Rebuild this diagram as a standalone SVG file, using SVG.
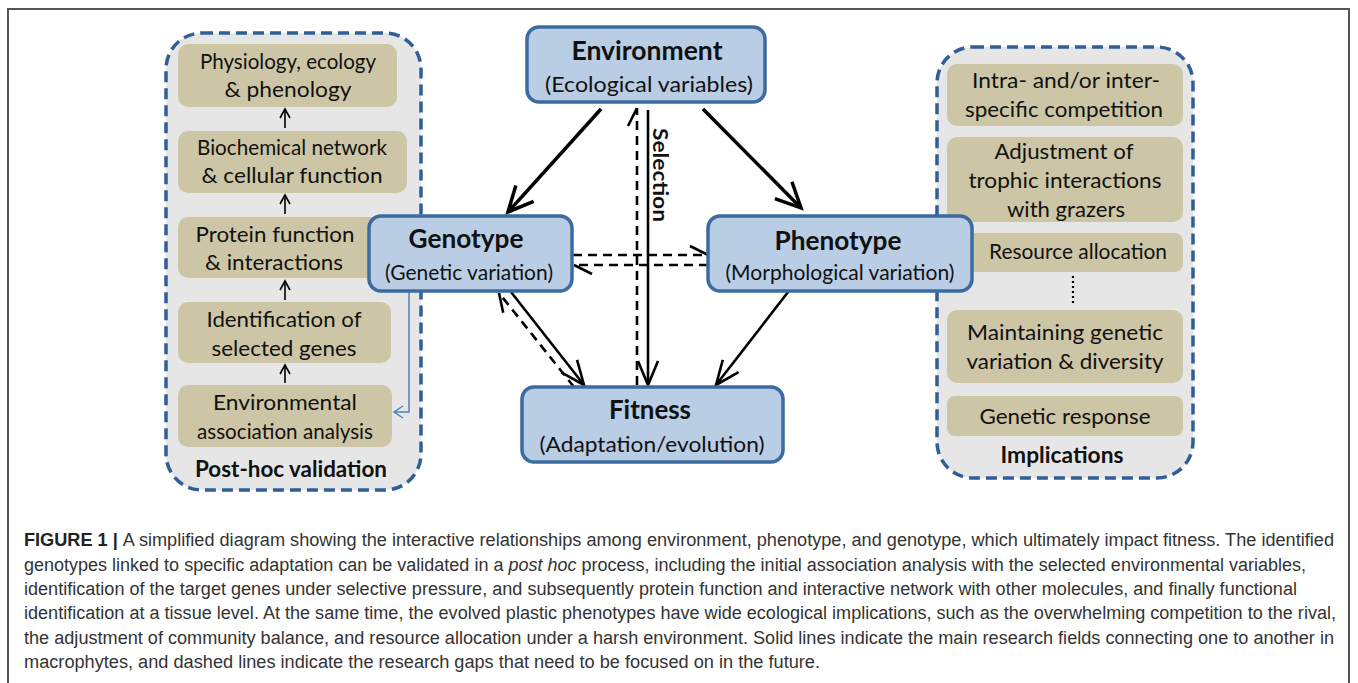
<svg xmlns="http://www.w3.org/2000/svg" width="1358" height="683" viewBox="0 0 1358 683">
<defs>
<style>
.panel{fill:#e6e6e6;stroke:#2f5f96;stroke-width:3.5;stroke-dasharray:11 6}
.tan{fill:#cdc6a6}
.node{fill:#b9cde5;stroke:#3c6b9f;stroke-width:3.5}
.t{font-family:Lato,"Open Sans",sans-serif;font-size:22px;fill:#111;text-anchor:middle}
.tb{font-family:Lato,"Open Sans",sans-serif;font-size:22px;font-weight:bold;fill:#111;text-anchor:middle}
.h{font-family:Lato,"Open Sans",sans-serif;font-size:27px;font-weight:bold;fill:#111;text-anchor:middle}
.s{font-family:Lato,"Open Sans",sans-serif;font-size:22px;fill:#111;text-anchor:middle}
.cap{font-family:"Liberation Sans",Arial,sans-serif;font-size:18px;fill:#333}
.thick{stroke:#000;stroke-width:3.5;fill:none}
.solid{stroke:#000;stroke-width:2.6;fill:none}
.dash{stroke:#000;stroke-width:2.6;fill:none;stroke-dasharray:9 6}
.small{stroke:#000;stroke-width:1.6;fill:none}
</style>
<marker id="bigV" markerUnits="userSpaceOnUse" orient="auto" markerWidth="40" markerHeight="40" viewBox="-30 -20 40 40" refX="0" refY="0" overflow="visible">
<path d="M-25,-12 L0,0 L-25,12" fill="none" stroke="#000" stroke-width="3.5"/>
</marker>
<marker id="midV" markerUnits="userSpaceOnUse" orient="auto" markerWidth="40" markerHeight="40" viewBox="-30 -20 40 40" refX="0" refY="0" overflow="visible">
<path d="M-24,-10 L0,0 L-24,10" fill="none" stroke="#000" stroke-width="2.6"/>
</marker>
<marker id="half" markerUnits="userSpaceOnUse" orient="auto" markerWidth="40" markerHeight="40" viewBox="-30 -20 40 40" refX="0" refY="0" overflow="visible">
<path d="M0,0 L-18,-9" fill="none" stroke="#000" stroke-width="2.6" stroke-dasharray="none"/>
</marker>
<marker id="smallV" markerUnits="userSpaceOnUse" orient="auto" markerWidth="20" markerHeight="20" viewBox="-15 -10 20 20" refX="0" refY="0" overflow="visible">
<path d="M-9,-5 L0,0 L-9,5" fill="none" stroke="#000" stroke-width="1.6"/>
</marker>
<marker id="blueV" markerUnits="userSpaceOnUse" orient="auto" markerWidth="20" markerHeight="20" viewBox="-15 -10 20 20" refX="0" refY="0" overflow="visible">
<path d="M-9,-6 L0,0 L-9,6" fill="none" stroke="#4f81bd" stroke-width="1.5"/>
</marker>
</defs>

<rect x="0" y="0" width="1358" height="683" fill="#fff"/>
<rect id="frame" x="8" y="9" width="1341" height="720" fill="none" stroke="#555" stroke-width="2"/>

<g id="post-hoc-panel">
<rect class="panel" x="166" y="33" width="255" height="457" rx="36"/>
<text class="tb" x="291" y="477" textLength="192" lengthAdjust="spacingAndGlyphs">Post-hoc validation</text>
</g>
<g id="physiology">
<rect class="tan" x="178" y="44" width="219" height="63" rx="10"/>
<text class="t" x="288" y="69" textLength="176" lengthAdjust="spacingAndGlyphs">Physiology, ecology</text>
<text class="t" x="288" y="97" textLength="127" lengthAdjust="spacingAndGlyphs">&amp; phenology</text>
</g>
<g id="biochemical">
<rect class="tan" x="178" y="131" width="229" height="62" rx="10"/>
<text class="t" x="292" y="155" textLength="190" lengthAdjust="spacingAndGlyphs">Biochemical network</text>
<text class="t" x="292" y="183" textLength="181" lengthAdjust="spacingAndGlyphs">&amp; cellular function</text>
</g>
<g id="protein">
<rect class="tan" x="178" y="217" width="215" height="61" rx="10"/>
<text class="t" x="275" y="242" textLength="159" lengthAdjust="spacingAndGlyphs">Protein function</text>
<text class="t" x="274" y="270" textLength="138" lengthAdjust="spacingAndGlyphs">&amp; interactions</text>
</g>
<g id="identification">
<rect class="tan" x="178" y="302" width="213" height="61" rx="10"/>
<text class="t" x="284" y="327" textLength="155" lengthAdjust="spacingAndGlyphs">Identification of</text>
<text class="t" x="284" y="356" textLength="145" lengthAdjust="spacingAndGlyphs">selected genes</text>
</g>
<g id="environmental-association">
<rect class="tan" x="178" y="385" width="214" height="62" rx="10"/>
<text class="t" x="285" y="410" textLength="144" lengthAdjust="spacingAndGlyphs">Environmental</text>
<text class="t" x="285" y="439" textLength="176" lengthAdjust="spacingAndGlyphs">association analysis</text>
</g>

<g id="implications-panel">
<rect class="panel" x="937" y="47" width="256" height="431" rx="36"/>
<text class="tb" x="1062" y="463" textLength="123" lengthAdjust="spacingAndGlyphs">Implications</text>
</g>
<g id="competition">
<rect class="tan" x="947" y="64" width="236" height="62" rx="10"/>
<text class="t" x="1066" y="88" textLength="188" lengthAdjust="spacingAndGlyphs">Intra- and/or inter-</text>
<text class="t" x="1064" y="117" textLength="198" lengthAdjust="spacingAndGlyphs">specific competition</text>
</g>
<g id="trophic">
<rect class="tan" x="947" y="137" width="236" height="85" rx="10"/>
<text class="t" x="1064" y="159" textLength="139" lengthAdjust="spacingAndGlyphs">Adjustment of</text>
<text class="t" x="1065" y="188" textLength="193" lengthAdjust="spacingAndGlyphs">trophic interactions</text>
<text class="t" x="1066" y="217" textLength="118" lengthAdjust="spacingAndGlyphs">with grazers</text>
</g>
<g id="resource">
<rect class="tan" x="947" y="233" width="236" height="39" rx="8"/>
<text class="t" x="1078" y="259" textLength="178" lengthAdjust="spacingAndGlyphs">Resource allocation</text>
</g>
<g id="ellipsis">
<line x1="1073" y1="276" x2="1073" y2="305" stroke="#000" stroke-width="2.2" stroke-dasharray="2 3"/>
</g>
<g id="maintaining">
<rect class="tan" x="947" y="310" width="236" height="73" rx="10"/>
<text class="t" x="1065" y="340" textLength="196" lengthAdjust="spacingAndGlyphs">Maintaining genetic</text>
<text class="t" x="1065" y="369" textLength="197" lengthAdjust="spacingAndGlyphs">variation &amp; diversity</text>
</g>
<g id="genetic-response">
<rect class="tan" x="947" y="396" width="236" height="40" rx="8"/>
<text class="t" x="1065" y="424" textLength="171" lengthAdjust="spacingAndGlyphs">Genetic response</text>
</g>

<g id="connectors">
<line class="small" x1="285" y1="128" x2="285" y2="109" marker-end="url(#smallV)"/>
<line class="small" x1="285" y1="214" x2="285" y2="195" marker-end="url(#smallV)"/>
<line class="small" x1="285" y1="300" x2="285" y2="281" marker-end="url(#smallV)"/>
<line class="small" x1="285" y1="383" x2="285" y2="365" marker-end="url(#smallV)"/>
<path d="M409,292 V412 H394" fill="none" stroke="#4f81bd" stroke-width="1.5" marker-end="url(#blueV)"/>
<line class="thick" x1="601" y1="109" x2="508" y2="212" marker-end="url(#bigV)"/>
<line class="thick" x1="703" y1="109" x2="801" y2="208" marker-end="url(#bigV)"/>
<line class="solid" x1="648" y1="110" x2="648" y2="385" marker-end="url(#midV)"/>
<line class="dash" x1="637" y1="385" x2="637" y2="108" marker-end="url(#half)"/>
<line class="dash" x1="573" y1="255" x2="708" y2="255" marker-end="url(#half)"/>
<line class="dash" x1="708" y1="265" x2="574" y2="265" marker-end="url(#half)"/>
<line class="solid" x1="511" y1="292" x2="584" y2="385" marker-end="url(#midV)"/>
<line class="dash" x1="574" y1="387" x2="499" y2="293" marker-end="url(#half)"/>
<line class="solid" x1="795" y1="283" x2="716" y2="385" marker-end="url(#midV)"/>
<text x="653" y="175" transform="rotate(90 653 175)" textLength="94" lengthAdjust="spacingAndGlyphs" style="font-family:Lato,'Open Sans',sans-serif;font-size:21px;font-weight:bold;fill:#111;text-anchor:middle">Selection</text>
</g>

<g id="environment">
<rect class="node" x="527" y="27" width="238" height="75" rx="12"/>
<text class="h" x="647" y="60" textLength="151" lengthAdjust="spacingAndGlyphs">Environment</text>
<text class="s" x="649" y="92" textLength="208" lengthAdjust="spacingAndGlyphs">(Ecological variables)</text>
</g>
<g id="genotype">
<rect class="node" x="369" y="216" width="203" height="75" rx="12"/>
<text class="h" x="466" y="248" textLength="115" lengthAdjust="spacingAndGlyphs">Genotype</text>
<text class="s" x="469" y="280" textLength="168" lengthAdjust="spacingAndGlyphs">(Genetic variation)</text>
</g>
<g id="phenotype">
<rect class="node" x="708" y="216" width="264" height="75" rx="12"/>
<text class="h" x="838" y="250" textLength="127" lengthAdjust="spacingAndGlyphs">Phenotype</text>
<text class="s" x="840" y="280" textLength="229" lengthAdjust="spacingAndGlyphs">(Morphological variation)</text>
</g>
<g id="fitness">
<rect class="node" x="522" y="387" width="261" height="75" rx="12"/>
<text class="h" x="650" y="419" textLength="82" lengthAdjust="spacingAndGlyphs">Fitness</text>
<text class="s" x="652" y="452" textLength="225" lengthAdjust="spacingAndGlyphs">(Adaptation/evolution)</text>
</g>

<g id="caption">
<text class="cap" x="24" y="546" textLength="1310" lengthAdjust="spacingAndGlyphs"><tspan font-weight="bold" fill="#222">FIGURE 1 | </tspan>A simplified diagram showing the interactive relationships among environment, phenotype, and genotype, which ultimately impact fitness. The identified</text>
<text class="cap" x="24" y="571" textLength="1282" lengthAdjust="spacingAndGlyphs">genotypes linked to specific adaptation can be validated in a <tspan font-style="italic">post hoc</tspan> process, including the initial association analysis with the selected environmental variables,</text>
<text class="cap" x="24" y="595" textLength="1273" lengthAdjust="spacingAndGlyphs">identification of the target genes under selective pressure, and subsequently protein function and interactive network with other molecules, and finally functional</text>
<text class="cap" x="24" y="619" textLength="1312" lengthAdjust="spacingAndGlyphs">identification at a tissue level. At the same time, the evolved plastic phenotypes have wide ecological implications, such as the overwhelming competition to the rival,</text>
<text class="cap" x="24" y="644" textLength="1310" lengthAdjust="spacingAndGlyphs">the adjustment of community balance, and resource allocation under a harsh environment. Solid lines indicate the main research fields connecting one to another in</text>
<text class="cap" x="24" y="668" textLength="796" lengthAdjust="spacingAndGlyphs">macrophytes, and dashed lines indicate the research gaps that need to be focused on in the future.</text>
</g>
</svg>
